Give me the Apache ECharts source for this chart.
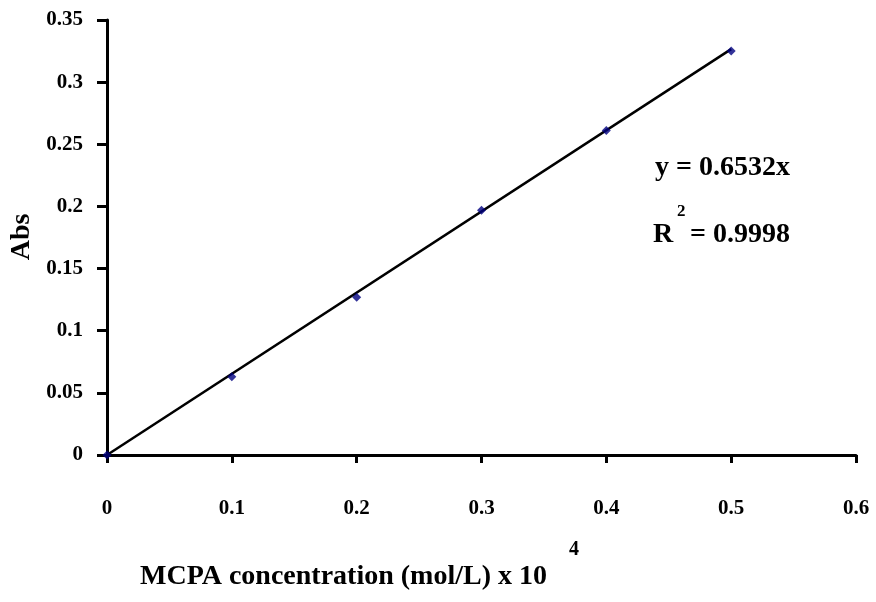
<!DOCTYPE html>
<html>
<head>
<meta charset="utf-8">
<script src="https://cdn.jsdelivr.net/npm/echarts@6/dist/echarts.min.js"></script>
<style>
html, body { margin: 0; padding: 0; background: #fff; }
#chart-area { width: 876px; height: 602px; }
</style>
</head>
<body>
<div id="chart-area"></div>
<script>
// measured points (x in mol/L x 10^4, y = absorbance)
const concData = [0, 0.1, 0.2, 0.3, 0.4, 0.5];
const absData = [0, 0.063, 0.127, 0.197, 0.261, 0.325];
// linear fit through origin
const slope = 0.6532;
const fitX = [0, 0.5];
const eqText = 'y = 0.6532x';
const r2Text = '= 0.9998';

const serif = '"Liberation Serif", "Times New Roman", serif';
const myChart = echarts.init(document.getElementById('chart-area'));

const option = {
	animation: false,
	grid: { left: 107, right: 20, top: 20, bottom: 147 },
	xAxis: {
		type: 'value',
		min: 0,
		max: 0.6,
		interval: 0.1,
		axisLine: { show: true, lineStyle: { color: '#000', width: 3 } },
		axisTick: { show: true, length: 8, lineStyle: { color: '#000', width: 3 } },
		splitLine: { show: false },
		axisLabel: { margin: 43, color: '#000', fontFamily: serif, fontWeight: 'bold', fontSize: 21 }
	},
	yAxis: {
		type: 'value',
		min: 0,
		max: 0.35,
		interval: 0.05,
		axisLine: { show: true, lineStyle: { color: '#000', width: 3 } },
		axisTick: { show: true, length: 10, lineStyle: { color: '#000', width: 3 } },
		splitLine: { show: false },
		axisLabel: { margin: 24, color: '#000', fontFamily: serif, fontWeight: 'bold', fontSize: 21 }
	},
	series: [
		{
			name: 'fit',
			type: 'line',
			symbol: 'none',
			lineStyle: { color: '#000', width: 2.5 },
			data: fitX.map((x) => [x, +(slope * x).toFixed(4)]),
			z: 2
		},
		{
			name: 'Abs',
			type: 'scatter',
			symbol: 'diamond',
			symbolSize: 9,
			itemStyle: { color: '#000080' },
			data: concData.map((x, i) => [x, absData[i]]),
			z: 3
		}
	],
	graphic: [
		{
			type: 'text', x: 22, y: 237, rotation: Math.PI / 2,
			style: { text: 'Abs', font: 'bold 28px ' + serif, fill: '#000', textAlign: 'center', textVerticalAlign: 'middle' }
		},
		{
			type: 'text', x: 140, y: 577,
			style: { text: 'MCPA concentration (mol/L) x 10', font: 'bold 28px ' + serif, fill: '#000', textVerticalAlign: 'middle' }
		},
		{
			type: 'text', x: 569, y: 550,
			style: { text: '4', font: 'bold 20px ' + serif, fill: '#000', textVerticalAlign: 'middle' }
		},
		{
			type: 'text', x: 790, y: 168,
			style: { text: eqText, font: 'bold 28px ' + serif, fill: '#000', textAlign: 'right', textVerticalAlign: 'middle' }
		},
		{
			type: 'text', x: 653, y: 235,
			style: { text: 'R', font: 'bold 28px ' + serif, fill: '#000', textVerticalAlign: 'middle' }
		},
		{
			type: 'text', x: 677, y: 212,
			style: { text: '2', font: 'bold 17px ' + serif, fill: '#000', textVerticalAlign: 'middle' }
		},
		{
			type: 'text', x: 790, y: 235,
			style: { text: r2Text, font: 'bold 28px ' + serif, fill: '#000', textAlign: 'right', textVerticalAlign: 'middle' }
		}
	]
};
myChart.setOption(option);
</script>
</body>
</html>
